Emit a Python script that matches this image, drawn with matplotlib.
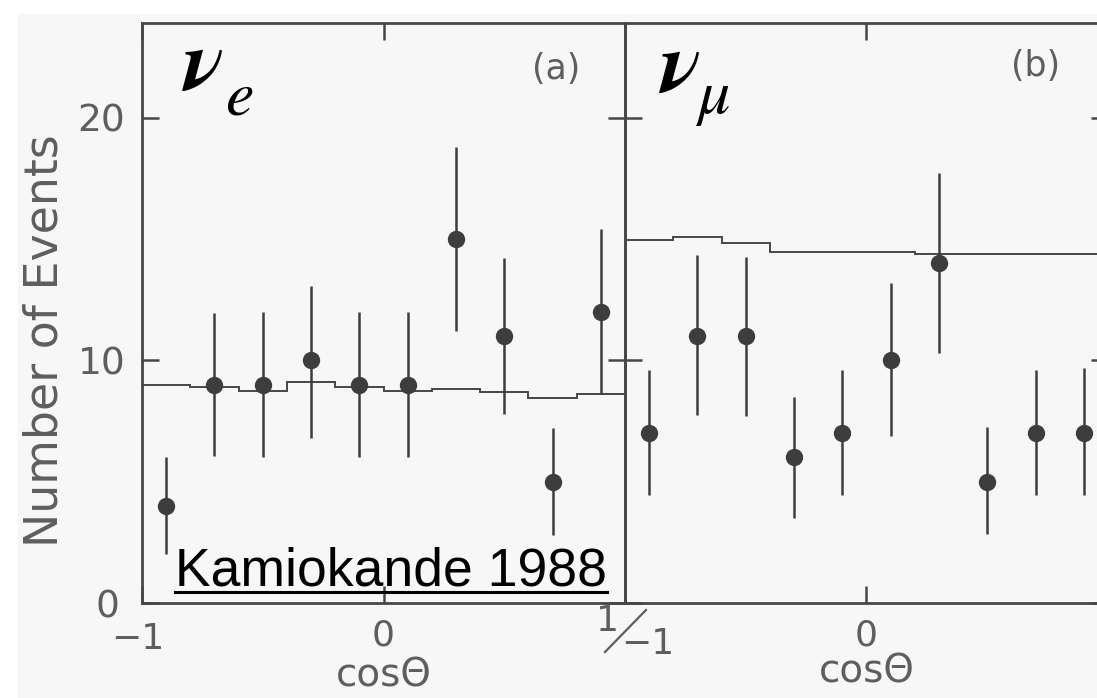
import numpy as np
import matplotlib
matplotlib.use("Agg")
import matplotlib.pyplot as plt
from matplotlib.lines import Line2D
from matplotlib.patches import Rectangle
import matplotlib.transforms as mtransforms

# ---------------- data ----------------
cos_edges = [-1.0, -0.8, -0.6, -0.4, -0.2, 0.0, 0.2, 0.4, 0.6, 0.8, 1.0]
cos_centers = [-0.9, -0.7, -0.5, -0.3, -0.1, 0.1, 0.3, 0.5, 0.7, 0.9]

# (a) nu_e
e_counts = [4, 9, 9, 10, 9, 9, 15, 11, 5, 12]
e_low = [2.0, 6.05, 6.0, 6.8, 6.0, 6.0, 11.2, 7.8, 2.8, 8.6]
e_high = [6.0, 11.95, 12.0, 13.05, 12.0, 12.0, 18.8, 14.2, 7.2, 15.4]
e_expect = [9.0, 8.9, 8.75, 9.1, 8.9, 8.75, 8.8, 8.7, 8.45, 8.6]

# (b) nu_mu
mu_counts = [7, 11, 11, 6, 7, 10, 14, 5, 7, 7]
mu_low = [4.45, 7.75, 7.7, 3.5, 4.45, 6.9, 10.3, 2.85, 4.45, 4.45]
mu_high = [9.6, 14.35, 14.25, 8.5, 9.6, 13.2, 17.7, 7.25, 9.6, 9.7]
mu_expect = [14.95, 15.1, 14.85, 14.45, 14.45, 14.45, 14.4, 14.4, 14.4, 14.4]

y_ticks = [0, 10, 20]
y_ticklabels = ["0", "10", "20"]

# ---------------- style ----------------
W, H = 1097, 698
BG = "#f7f7f7"
INK = "#474747"
TXT = "#5e5e5e"

fig = plt.figure(figsize=(W / 100, H / 100), dpi=100, facecolor=BG)
# white scan margins
fig.add_artist(Rectangle((0, 0), 18 / W, 1, transform=fig.transFigure,
                         facecolor="white", edgecolor="none", zorder=0))
fig.add_artist(Rectangle((0, 1 - 14 / H), 1, 14 / H, transform=fig.transFigure,
                         facecolor="white", edgecolor="none", zorder=0))

ax_l = fig.add_axes([142 / W, 95 / H, 483 / W, 580 / H])
ax_r = fig.add_axes([625 / W, 95 / H, 483 / W, 580 / H])


def style_axes(ax, counts, low, high, expect):
    ax.set_facecolor("none")
    ax.set_xlim(-1, 1)
    ax.set_ylim(0, 23.9)
    for s in ax.spines.values():
        s.set_color(INK)
        s.set_linewidth(2.0)
    ax.stairs(expect, cos_edges, baseline=None, color=INK, lw=1.4)
    yerr = [np.array(counts) - np.array(low), np.array(high) - np.array(counts)]
    ax.errorbar(cos_centers, counts, yerr=yerr, fmt="o", ms=12.5, color="#3d3d3d",
                mec="#3d3d3d", mew=0, ecolor="#3d3d3d", elinewidth=1.8, capsize=0,
                zorder=3)
    ax.set_yticks(y_ticks)
    ax.set_xticks([-1, 0])
    ax.tick_params(axis="both", which="both", direction="in", length=12, width=1.8,
                   color=INK, labelcolor=TXT, labelsize=27,
                   top=True, right=True, bottom=True, left=True)
    ax.tick_params(axis="x", pad=11, labelsize=26)
    ax.tick_params(axis="y", pad=12)


style_axes(ax_l, e_counts, e_low, e_high, e_expect)
style_axes(ax_r, mu_counts, mu_low, mu_high, mu_expect)

# left panel labels
ax_l.set_yticklabels(y_ticklabels)
ax_l.set_xticklabels(["\u22121", "0"])
ax_r.set_yticklabels(["", "", ""])
ax_r.set_xticklabels(["", "0"])

# nudge the '-1' and '0' labels as in the scan
off = mtransforms.ScaledTranslation(-4 / 100, -4 / 100, fig.dpi_scale_trans)
lbl = ax_l.get_xticklabels()[0]
lbl.set_transform(lbl.get_transform() + off)
off0 = mtransforms.ScaledTranslation(-6 / 100, 0 / 100, fig.dpi_scale_trans)
lbl0 = ax_l.get_yticklabels()[0]
lbl0.set_transform(lbl0.get_transform() + off0)


# the shared "1 / -1" label at the panel boundary
def ax_frac(xp, yp, x0):
    return ((xp - x0) / 483, (603 - yp) / 580)


fx, fy = ax_frac(607.5, 621, 142)
ax_l.text(fx, fy, "1", transform=ax_l.transAxes, ha="center", va="center",
          fontsize=26, color=TXT, clip_on=False)
fx, fy = ax_frac(648, 644, 625)
ax_r.text(fx, fy, "\u22121", transform=ax_r.transAxes, ha="center", va="center",
          fontsize=26, color=TXT, clip_on=False)
fig.add_artist(Line2D([605 / W, 646 / W], [1 - 652 / H, 1 - 610 / H],
                      transform=fig.transFigure, color=TXT, lw=1.6))

# axis titles
for ax in (ax_l, ax_r):
    ax.set_xlabel("cos\u0398", fontsize=28, color=TXT, labelpad=0)
ax_l.set_ylabel("Number of Events", fontsize=33, color=TXT)
ax_l.yaxis.set_label_coords(-0.155, 0.452)

# panel letters
ax_l.text(0.857, 0.921, "(a)", transform=ax_l.transAxes, ha="center", va="center",
          fontsize=25, color=TXT)
ax_r.text(0.849, 0.926, "(b)", transform=ax_r.transAxes, ha="center", va="center",
          fontsize=25, color=TXT)

# neutrino symbols
nu_kw = dict(family="STIXGeneral", style="italic", weight="bold", color="black")
ax_l.text(0.086, 0.884, "\u03bd", transform=ax_l.transAxes, ha="left",
          va="baseline", fontsize=62, **nu_kw)
ax_l.text(0.172, 0.843, "e", transform=ax_l.transAxes, ha="left",
          va="baseline", fontsize=46, family="STIXGeneral", style="italic",
          color="black")
ax_r.text(0.075, 0.881, "\u03bd", transform=ax_r.transAxes, ha="left",
          va="baseline", fontsize=62, **nu_kw)
ax_r.text(0.150, 0.845, "\u03bc", transform=ax_r.transAxes, ha="left",
          va="baseline", fontsize=46, family="STIXGeneral", style="italic",
          color="black")

# Kamiokande label with underline
kt = ax_l.text(0.068, 0.031, "Kamiokande 1988", transform=ax_l.transAxes,
               ha="left", va="baseline", fontsize=38.5, family="Liberation Sans",
               color="black", zorder=5)
fig.canvas.draw()
bb = kt.get_window_extent(fig.canvas.get_renderer())
uy = 95 + 580 * 0.0195
fig.add_artist(Line2D([bb.x0 / W, bb.x1 / W], [uy / H, uy / H],
                      transform=fig.transFigure, color="black", lw=2.2, zorder=6))

fig.savefig("out.png", dpi=100, facecolor=BG)
